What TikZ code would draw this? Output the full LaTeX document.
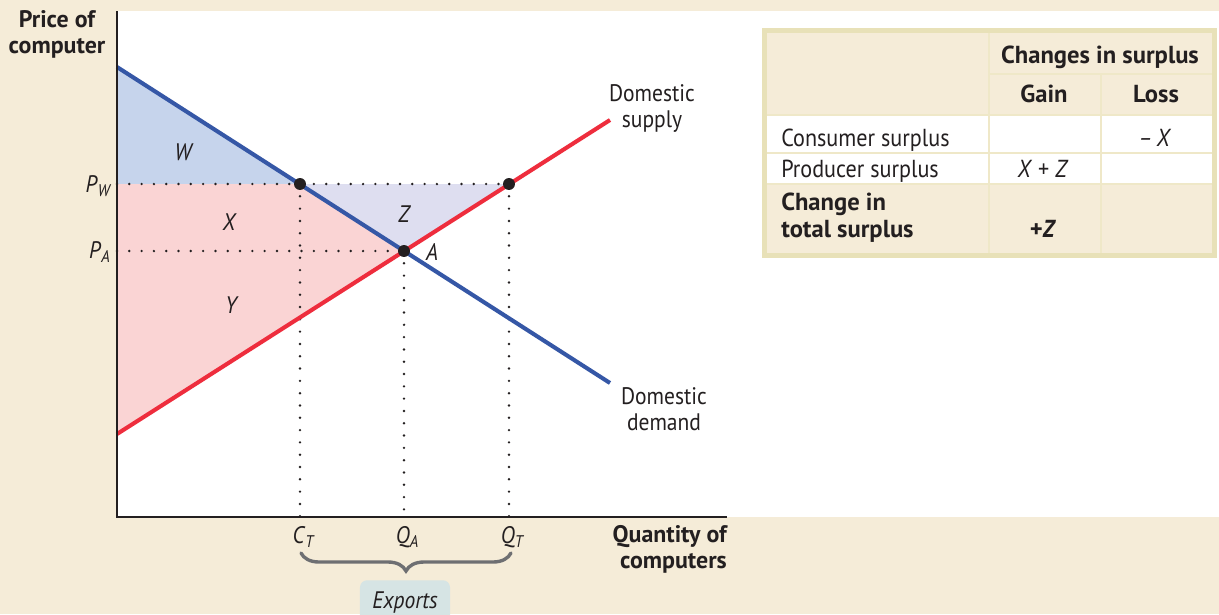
\documentclass[tikz,border=0pt]{standalone}
\usepackage{fontspec}
\setmainfont{PT Sans}[FakeStretch=0.9, BoldFeatures={FakeStretch=1.0}]
\usepackage{tikz}
\usetikzlibrary{positioning,calc,decorations.pathreplacing}

\definecolor{pagebg}{HTML}{F5ECD8}
\definecolor{ink}{HTML}{231F20}
\definecolor{demandblue}{HTML}{3557A6}
\definecolor{supplyred}{HTML}{EE2D3D}
\definecolor{wfill}{HTML}{C6D4EC}
\definecolor{zfill}{HTML}{DEDEF0}
\definecolor{pfill}{HTML}{FAD4D4}
\definecolor{tableedge}{HTML}{E8E1B8}
\definecolor{tablegrid}{HTML}{EFE8C8}
\definecolor{bracegray}{HTML}{6E6F72}
\definecolor{exportsbg}{HTML}{D6E4E4}

\newcommand{\chartfont}{\fontsize{17}{17.8}\selectfont}
\newcommand{\tablefont}{\fontsize{17.5}{19.2}\selectfont}
\newcommand{\sublbl}[2]{\textit{#1}\raisebox{-3.2pt}{\fontsize{12}{12}\selectfont\itshape #2}}

\begin{document}
\begin{tikzpicture}[x=0.025cm, y=-0.025cm,
        every node/.style={inner sep=0pt, text=ink, font=\chartfont},
        curve/.style={line width=2.9pt},
        guide/.style={ink, line width=1.9pt, line cap=round, dash pattern=on 0pt off 8.75pt},
        eqdot/.style={circle, fill=ink, minimum size=8.5pt},
        area/.style={font=\chartfont\itshape, anchor=base},
        cell/.style={font=\tablefont, anchor=base},
        gridline/.style={tablegrid, line width=1.5pt}]

        \clip (0,0) rectangle (1219,614);
        \fill[pagebg] (0,0) rectangle (1219,614);                  % page
        \fill[white] (117,11) rectangle (1219,517);                % plot area

        % corners of the graph
        \coordinate (O) at (117,517);
        \coordinate (yTop) at (117,11);
        \coordinate (xEnd) at (727,517);
        \coordinate (dTop) at (117,67);
        \coordinate (dEnd) at (610,383);
        \coordinate (sBot) at (117,434);
        \coordinate (sEnd) at (610,120);
        \coordinate (CT) at (300,184);
        \coordinate (QT) at (509,184);
        \coordinate (eqA) at (404,251);
        \coordinate (pwAxis) at (117,184);
        \coordinate (paAxis) at (117,251);
        \coordinate (ctAxis) at (300,517);
        \coordinate (qaAxis) at (404,517);
        \coordinate (qtAxis) at (509,517);

        % shaded surplus areas
        \fill[wfill] (dTop) -- (pwAxis) -- (CT) -- cycle;           % W
        \fill[zfill] (CT) -- (QT) -- (eqA) -- cycle;                % Z
        \fill[pfill] (pwAxis) -- (CT) -- (eqA) -- (sBot) -- cycle;  % X + Y

        % dotted guides
        \draw[guide] (pwAxis) -- (QT);
        \draw[guide] (paAxis) -- (eqA);
        \draw[guide] (CT) -- (ctAxis);
        \draw[guide] (eqA) -- (qaAxis);
        \draw[guide] (QT) -- (qtAxis);

        % supply and demand
        \draw[curve, supplyred] (sBot) -- (sEnd);
        \draw[curve, demandblue] (dTop) -- (dEnd);

        % axes
        \draw[ink, line width=1.3pt] (yTop) -- (O) -- (xEnd);

        \node[eqdot] (ptC) at (CT) {};
        \node[eqdot] (ptQ) at (QT) {};
        \node[eqdot] (ptA) at (eqA) {};

        % labels (base of a two-line node = last line)
        \node[font=\chartfont\bfseries, align=center, anchor=base] (ylab) at (57,53) {Price of\\computer};
        \node[font=\chartfont\bfseries, align=right, anchor=base east] (xlab) at (727,568) {Quantity of\\computers};
        \node[align=center, anchor=base] (slab) at (652,127) {Domestic\\supply};
        \node[align=center, anchor=base] (dlab) at (664,430) {Domestic\\demand};

        \node[anchor=base east] (pw) at (110,192) {\sublbl{P}{W}};
        \node[anchor=base east] (pa) at (110,258) {\sublbl{P}{A}};
        \node[area] (wl) at (183,160) {W};
        \node[area] (xl) at (229,230) {X};
        \node[area] (yl) at (231,313) {Y};
        \node[area] (zl) at (404,222) {Z};
        \node[area] (al) at (432,260) {A};

        \node[anchor=base] (ctl) at (303,543) {\sublbl{C}{T}};
        \node[anchor=base] (qal) at (407,543) {\sublbl{Q}{A}};
        \node[anchor=base] (qtl) at (512,543) {\sublbl{Q}{T}};

        % exports brace
        \coordinate (bL) at (301,553);
        \coordinate (bR) at (511,553);
        \draw[bracegray, line width=2.4pt, line cap=round, decorate,
              decoration={brace, mirror, amplitude=0.45cm}] (bL) -- (bR);
        \node[fill=exportsbg, rounded corners=5pt, minimum width=2.25cm, minimum height=1.1cm,
              anchor=north, font=\chartfont\itshape] (exp) at (405,580) {Exports};

        % table
        \fill[pagebg] (765,31) rectangle (1214,255);
        \fill[white] (765,115) rectangle (1214,184);
        \draw[gridline] (989,74) -- (1214,74);
        \draw[gridline] (765,115) -- (1214,115);
        \draw[gridline] (765,153) -- (1214,153);
        \draw[gridline] (765,184) -- (1214,184);
        \draw[gridline] (989,31) -- (989,255);
        \draw[gridline] (1101,74) -- (1101,255);
        \draw[tableedge, line width=3.6pt] (764.5,30.5) rectangle (1214.5,255.5);

        \node[cell, font=\tablefont\bfseries] (hchg) at (1100,63) {Changes in surplus};
        \node[cell, font=\tablefont\bfseries] (hgain) at (1044,102) {Gain};
        \node[cell, font=\tablefont\bfseries] (hloss) at (1156,102) {Loss};
        \node[cell, anchor=base west] (rcons) at (781,146) {Consumer surplus};
        \node[cell] (closs) at (1155,146) {\textit{–\,X}};
        \node[cell, anchor=base west] (rprod) at (781,177) {Producer surplus};
        \node[cell] (pgain) at (1043,177) {\textit{X} + \textit{Z}};
        \node[cell, anchor=base west, align=left, font=\tablefont\bfseries] (rtot) at (781,237) {Change in\\total surplus};
        \node[cell, font=\tablefont\bfseries] (tgain) at (1043,237) {+\textit{Z}};
\end{tikzpicture}
\end{document}
